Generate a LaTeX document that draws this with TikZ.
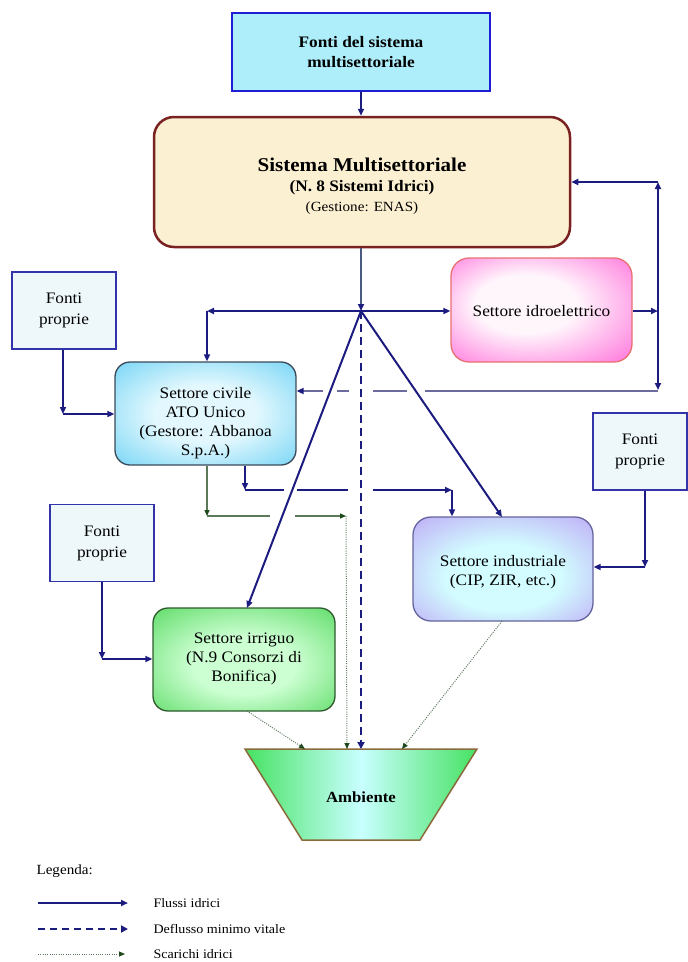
\documentclass[tikz,border=0pt]{standalone}
\usepackage{fontspec}
\setmainfont{Liberation Serif}[FakeStretch=1.08]
\usetikzlibrary{arrows.meta,shapes.geometric}

\definecolor{navy}{HTML}{1C1C80}
\definecolor{slateline}{HTML}{4A5A80}
\definecolor{greyblue}{HTML}{6C6C9C}
\definecolor{grline}{HTML}{5A7A5A}
\definecolor{darkgr}{HTML}{1E4A1E}
\definecolor{scargreen}{HTML}{5C785C}
\definecolor{topfill}{HTML}{AEEEFA}
\definecolor{topdraw}{HTML}{1E1ED2}
\definecolor{sisfill}{HTML}{FCF0D2}
\definecolor{sisdraw}{HTML}{7A2222}
\definecolor{fontib}{HTML}{3333AA}
\definecolor{fontif}{HTML}{EEF8FB}
\definecolor{civin}{HTML}{E2F8FE}
\definecolor{civout}{HTML}{34BFF0}
\definecolor{civdraw}{HTML}{3A4A5A}
\definecolor{hydin}{HTML}{FFF6FC}
\definecolor{hydout}{HTML}{FF2ECA}
\definecolor{hyddraw}{HTML}{E87070}
\definecolor{indin}{HTML}{D2FCFF}
\definecolor{indout}{HTML}{B27CF0}
\definecolor{inddraw}{HTML}{64649E}
\definecolor{irrin}{HTML}{CCFFD2}
\definecolor{irrout}{HTML}{22C82C}
\definecolor{irrdraw}{HTML}{2E5A2E}
\definecolor{ambgreen}{HTML}{22DA36}
\definecolor{ambmid}{HTML}{C8FFFF}
\definecolor{ambdraw}{HTML}{8A6A3A}

\pgfdeclareradialshading{civshade}{\pgfpoint{0bp}{0bp}}{color(0bp)=(civin); color(14bp)=(civin); color(50bp)=(civout)}
\pgfdeclareradialshading{hydshade}{\pgfpoint{-6bp}{4bp}}{color(0bp)=(hydin); color(14bp)=(hydin); color(50bp)=(hydout)}
\pgfdeclareradialshading{indshade}{\pgfpoint{0bp}{-6bp}}{color(0bp)=(indin); color(16bp)=(indin); color(50bp)=(indout)}
\pgfdeclareradialshading{irrshade}{\pgfpoint{0bp}{-4bp}}{color(0bp)=(irrin); color(14bp)=(irrin); color(50bp)=(irrout)}
\pgfdeclarehorizontalshading{ambshade}{100bp}{color(0bp)=(ambgreen); color(18bp)=(ambgreen); color(50bp)=(ambmid); color(82bp)=(ambgreen); color(100bp)=(ambgreen)}

\newcommand\labfont{\fontsize{16}{19}\selectfont}
\newcommand\legfont{\fontsize{13}{15}\selectfont}

\tikzset{
  flow/.style={draw=navy, line width=2pt, -{Triangle[length=7pt,width=6pt,color=navy]}},
  flowslate/.style={draw=slateline, line width=2pt, -{Triangle[length=7pt,width=6pt,color=navy]}},
  flowgrey/.style={draw=greyblue, line width=2pt, -{Triangle[length=7pt,width=6pt,color=navy]}},
  dmv/.style={draw=navy, line width=2.6pt, dash pattern=on 8pt off 5pt, -{Triangle[length=7pt,width=7pt,color=navy]}},
  scar/.style={draw=scargreen, line width=1pt, dash pattern=on 1pt off 1.3pt, -{Triangle[length=6pt,width=5pt,color=darkgr]}},
  grn/.style={draw=grline, line width=1.2pt, -{Triangle[length=6pt,width=5pt,color=darkgr]}},
  fonti/.style={draw=fontib, line width=1.3pt, fill=fontif, rectangle, minimum width=104pt, minimum height=77pt, align=center, font=\labfont},
  sector/.style={rectangle, line width=1.3pt, shade, align=center, font=\labfont},
  labeltext/.style={align=center, font=\labfont, inner sep=0pt},
  gap/.style={fill=white, draw=none},
}

\begin{document}
\begin{tikzpicture}[x=1pt,y=-1pt]
\useasboundingbox (0,0) rectangle (688,962);

% ---- nodes
\node[draw=topdraw, line width=2.5pt, fill=topfill, rectangle, minimum width=258pt, minimum height=78pt,
      align=center, font=\bfseries\fontsize{16}{20}\selectfont] (top) at (361,52) {Fonti del sistema\\multisettoriale};

\node[draw=sisdraw, line width=2.5pt, fill=sisfill, rectangle, rounded corners=20pt,
      minimum width=416pt, minimum height=130pt] (sis) at (362,182) {};
\node[labeltext] (sist) at (362,186) {{\bfseries\fontsize{19.5}{22}\selectfont Sistema Multisettoriale}\\[1pt]
   {\bfseries\fontsize{16}{19}\selectfont (N. 8 Sistemi Idrici)}\\[1pt]
   {\fontsize{14}{16}\selectfont (Gestione: ENAS)}};

\node[fonti] (fontiA) at (64,310.5) {Fonti\\[2pt]proprie};
\node[fonti, minimum width=94pt] (fontiB) at (640,451.5) {Fonti\\[2pt]proprie};
\node[fonti] (fontiC) at (102,543) {Fonti\\[2pt]proprie};

\node[sector, draw=civdraw, shading=civshade, rounded corners=15pt, minimum width=181pt, minimum height=103pt] (civ) at (205.5,413.5) {};
\node[labeltext] (civt) at (205.5,423) {Settore civile\\ATO Unico\\(Gestore: Abbanoa\\S.p.A.)};

\node[sector, draw=hyddraw, shading=hydshade, rounded corners=18pt, minimum width=181pt, minimum height=104pt] (hyd) at (541.5,310) {};
\node[labeltext] (hydt) at (541.5,311) {Settore idroelettrico};

\node[sector, draw=inddraw, shading=indshade, rounded corners=18pt, minimum width=180pt, minimum height=104pt] (ind) at (503,569) {};
\node[labeltext] (indt) at (503,572) {Settore industriale\\(CIP, ZIR, etc.)};

\node[sector, draw=irrdraw, shading=irrshade, rounded corners=15pt, minimum width=182pt, minimum height=103pt] (irr) at (244,659.5) {};
\node[labeltext] (irrt) at (244,659) {Settore irriguo\\(N.9 Consorzi di\\Bonifica)};

% Ambiente trapezoid
\coordinate (ambTL) at (245,749);
\coordinate (ambTR) at (477,749);
\coordinate (ambBR) at (420,840);
\coordinate (ambBL) at (302,840);
\shade[shading=ambshade, draw=ambdraw, line width=1.5pt]
   (ambTL) -- (ambTR) -- (ambBR) -- (ambBL) -- cycle;
\node[font=\bfseries\fontsize{15.5}{18}\selectfont] (amb) at (361,797) {Ambiente};

% ---- coordinates
\coordinate (hub) at (361,311);
\coordinate (hl) at (207,311);
\coordinate (cA) at (63,414);
\coordinate (cC) at (102,659);
\coordinate (cB) at (645,567);
\coordinate (r1) at (658,311);
\coordinate (r2) at (658,182);
\coordinate (r3) at (658,390);
\coordinate (r4) at (658,391);
\coordinate (c2) at (245,490);
\coordinate (c3) at (452,490);
\coordinate (g1) at (207,516);
\coordinate (g2) at (346,516);
\coordinate (aIrr) at (305,749);
\coordinate (aGr) at (347,749);
\coordinate (aDmv) at (361,749);
\coordinate (aInd) at (402,749);
\coordinate (indS) at (502,621);
\coordinate (irrS) at (247,711);
\coordinate (irrN) at (247,608);
\coordinate (indN) at (502,517);

% ---- connectors drawn first (crossed lines)
\draw[flowgrey] (r4) -- (civ.east |- r4);
\draw[flow] (civ.south -| c2) -- (c2);
\draw[flow] (c2) -- (c3);
\draw[flow] (c3) -- (ind.north -| c3);
\draw[grn] (civ.south -| g1) -- (g1);
\draw[grn] (g1) -- (g2);
\draw[scar] (g2) -- (aGr);

% gaps at crossings
\fill[gap] (323,387) rectangle (337,395);
\fill[gap] (349,387) rectangle (373,395);
\fill[gap] (407,387) rectangle (425,395);
\fill[gap] (284,486) rectangle (297,494);
\fill[gap] (348,486) rectangle (373,494);
\fill[gap] (270,512) rectangle (295,520);

% ---- main flows
\draw[flow] (hub) -- (irrN);
\draw[flow] (hub) -- (indN);
\draw[dmv] (hub) -- (aDmv);
\draw[flowslate] (sis.south -| hub) -- (hub);
\draw[flow] (hub) -- (hl);
\draw[flow] (hl) -- (civ.north -| hl);
\draw[flow] (hub) -- (hub -| hyd.west);

\draw[flow] (fontiA.south -| cA) -- (cA);
\draw[flow] (cA) -- (cA -| civ.west);
\draw[flow] (fontiC.south) -- (cC);
\draw[flow] (cC) -- (cC -| irr.west);
\draw[flow] (fontiB.south -| cB) -- (cB);
\draw[flow] (cB) -- (cB -| ind.east);

\draw[flow] (hyd.east |- r1) -- (r1);
\draw[flow] (r1) -- (r2);
\draw[flow] (r2) -- (r2 -| sis.east);
\draw[flow] (r1) -- (r3);

\draw[flow] (top.south) -- (top.south |- sis.north);

\draw[scar] (irrS) -- (aIrr);
\draw[scar] (indS) -- (aInd);

% ---- legend
\node[anchor=west, font=\fontsize{14}{16}\selectfont] (leg) at (33,871) {Legenda:};
\coordinate (l1a) at (38,903); \coordinate (l1b) at (128,903);
\coordinate (l2a) at (38,929); \coordinate (l2b) at (128,929);
\coordinate (l3a) at (38,954); \coordinate (l3b) at (125,954);
\draw[flow] (l1a) -- (l1b);
\draw[draw=navy, line width=2.4pt, dash pattern=on 7pt off 5pt, -{Triangle[length=7pt,width=7pt,color=navy]}] (l2a) -- (l2b);
\draw[scar] (l3a) -- (l3b);
\node[anchor=west, font=\legfont] (leg1) at (150,903) {Flussi idrici};
\node[anchor=west, font=\legfont] (leg2) at (150,929) {Deflusso minimo vitale};
\node[anchor=west, font=\legfont] (leg3) at (150,954) {Scarichi idrici};
\end{tikzpicture}
\end{document}
